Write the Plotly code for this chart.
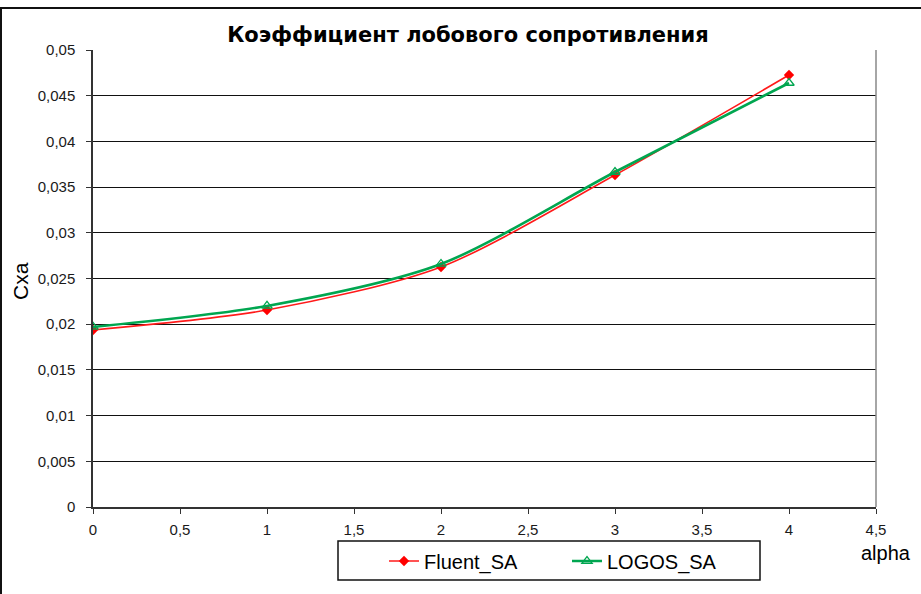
import plotly.graph_objects as go

# Drag coefficient vs angle of attack
alpha = [0, 1, 2, 3, 4]
fluent_sa = [0.01937, 0.02155, 0.02626, 0.03632, 0.04726]
logos_sa = [0.0197, 0.0220, 0.02659, 0.03665, 0.04639]

x_ticks = [0, 0.5, 1, 1.5, 2, 2.5, 3, 3.5, 4, 4.5]
x_tick_text = ["0", "0,5", "1", "1,5", "2", "2,5", "3", "3,5", "4", "4,5"]
y_ticks = [0, 0.005, 0.01, 0.015, 0.02, 0.025, 0.03, 0.035, 0.04, 0.045, 0.05]
y_tick_text = ["0", "0,005", "0,01", "0,015", "0,02", "0,025", "0,03",
               "0,035", "0,04", "0,045", "0,05"]

W, H = 921, 594
L, R, T, B = 93, 45, 50, 87
pw, ph = W - L - R, H - T - B


def px(x):
    return (x - L) / pw


def py(y):
    return (H - B - y) / ph


fig = go.Figure()
fig.add_trace(go.Scatter(
    x=alpha, y=fluent_sa, name="Fluent_SA", mode="lines+markers",
    line=dict(color="#FF1A1A", width=1.6, shape="spline", smoothing=0.8),
    marker=dict(symbol="diamond", size=8, color="#FF0000"),
))
fig.add_trace(go.Scatter(
    x=alpha, y=logos_sa, name="LOGOS_SA", mode="lines+markers",
    line=dict(color="#00A650", width=2.6, shape="spline", smoothing=0.8),
    marker=dict(symbol="triangle-up-open", size=9, color="#00A650",
                line=dict(width=1.3)),
))

tick_font = dict(family="Liberation Sans, Arial", size=15, color="#1a1a1a")

fig.update_layout(
    width=W, height=H,
    margin=dict(l=L, r=R, t=T, b=B, pad=0),
    paper_bgcolor="white", plot_bgcolor="white",
    title=dict(text="Коэффициент лобового сопротивления",
               xref="container", x=468 / W, xanchor="center",
               yref="container", y=1 - 35 / H, yanchor="middle",
               font=dict(family="DejaVu Sans", size=21, color="black",
                         weight="bold")),
    xaxis=dict(range=[0, 4.5], tickvals=x_ticks, ticktext=x_tick_text,
               showgrid=False, zeroline=False, showline=True,
               linecolor="#333333", linewidth=1.5,
               ticks="outside", ticklen=5, tickcolor="#333333",
               ticklabelstandoff=3, tickfont=tick_font),
    yaxis=dict(range=[0, 0.05], tickvals=y_ticks, ticktext=y_tick_text,
               showgrid=True, gridcolor="#111111", gridwidth=1,
               zeroline=False, showline=True,
               linecolor="#333333", linewidth=1.5,
               ticks="outside", ticklen=5, tickcolor="#333333",
               ticklabelstandoff=8, tickfont=tick_font),
    showlegend=True,
    legend=dict(orientation="h", x=px(384), xanchor="left",
                y=py(561), yanchor="middle",
                bgcolor="rgba(0,0,0,0)", borderwidth=0,
                entrywidth=138, entrywidthmode="pixels",
                font=dict(family="Liberation Sans, Arial", size=20,
                          color="black")),
    shapes=[
        # outer chart frame
        dict(type="rect", xref="paper", yref="paper",
             x0=px(1), x1=px(930), y0=py(605), y1=py(8),
             line=dict(color="#111111", width=2)),
        # right border of the plot area
        dict(type="line", xref="paper", yref="paper",
             x0=1, x1=1, y0=0, y1=1,
             line=dict(color="#888888", width=1.5)),
        # legend box
        dict(type="rect", xref="paper", yref="paper",
             x0=px(338), x1=px(760), y0=py(580), y1=py(541),
             line=dict(color="#111111", width=1.5)),
    ],
    annotations=[
        dict(text="Cxa", xref="paper", yref="paper", x=px(20), y=py(281),
             xanchor="center", yanchor="middle", textangle=-90,
             showarrow=False,
             font=dict(family="Liberation Sans, Arial", size=21,
                       color="black")),
        dict(text="alpha", xref="paper", yref="paper", x=px(886), y=py(553),
             xanchor="center", yanchor="middle", showarrow=False,
             font=dict(family="Liberation Sans, Arial", size=20,
                       color="black")),
    ],
)

fig.write_html("out.html")
